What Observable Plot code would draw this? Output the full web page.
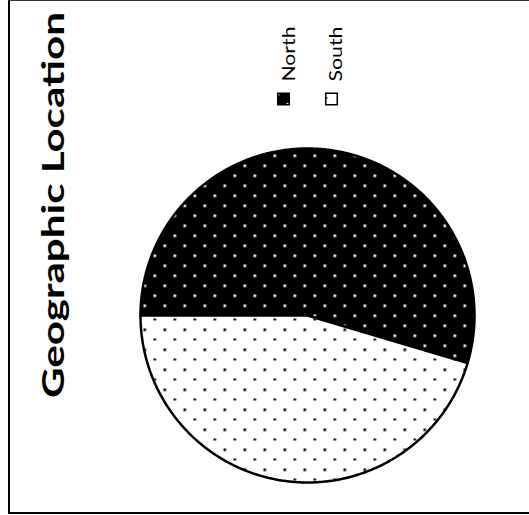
<!DOCTYPE html>
<html>
<head>
<meta charset="utf-8">
<script src="https://cdn.jsdelivr.net/npm/d3@7"></script>
<script src="https://cdn.jsdelivr.net/npm/@observablehq/plot@0.6"></script>
<style>
html, body { margin: 0; padding: 0; background: #fff; overflow: hidden; }
#wrap { position: relative; width: 529px; height: 515px; overflow: hidden; }
#border { position: absolute; left: 8px; top: 0px; width: 600px; height: 514px; box-sizing: border-box;
  border-left: 2px solid #000; border-top: 1.5px solid #333; border-bottom: 2px solid #000; pointer-events: none; }
</style>
</head>
<body>
<div id="wrap"><div id="chart"></div><div id="border"></div></div>
<script>
// ---- data ----
const title = "Geographic Location";
const regions = ["North", "South"];
const shares = [54.6, 45.4];
const patternIds = ["dotsNorth", "dotsSouth"];

// ---- slices (unit-circle geometry from d3.pie angles) ----
const data = regions.map((region, i) => ({region, value: shares[i]}));
const arcs = d3.pie().sort(null).value(d => d.value)
  .startAngle(-Math.PI / 2).endAngle(1.5 * Math.PI)(data);
const outline = arcs.flatMap(a => {
  const n = Math.max(2, Math.ceil((a.endAngle - a.startAngle) / (Math.PI / 360)));
  const pts = [{region: a.data.region, x: 0, y: 0}];
  for (let k = 0; k <= n; ++k) {
    const t = a.startAngle + (a.endAngle - a.startAngle) * k / n;
    pts.push({region: a.data.region, x: Math.sin(t), y: Math.cos(t)});
  }
  pts.push({region: a.data.region, x: 0, y: 0});
  return pts;
});

const font = "Lato, 'Open Sans', sans-serif";

const legendMarks = regions.flatMap((r, i) => [
  Plot.dot([r], {frameAnchor: "top-left", dx: 143 + 48 * i, dy: -49.5,
    symbol: "square", r: 6.5, fill: d => d, stroke: "black", strokeWidth: 1.5}),
  Plot.text([r], {frameAnchor: "top-left", dx: 142 + 47 * i, dy: -67, text: d => d,
    rotate: -90, textAnchor: "start", fontSize: 18, fontFamily: font, fill: "black"})
]);

const svg = Plot.plot({
  width: 529,
  height: 515,
  marginLeft: 140,
  marginRight: 55,
  marginTop: 148,
  marginBottom: 33,
  x: {domain: [-1, 1], axis: null},
  y: {domain: [-1, 1], axis: null},
  color: {type: "ordinal", domain: regions, range: patternIds.map(id => `url(#${id})`)},
  style: {background: "white", overflow: "visible"},
  marks: [
    Plot.line(outline, {x: "x", y: "y", z: "region", fill: "region", stroke: "black", strokeWidth: 2.5, strokeLinejoin: "round"}),
    Plot.text([title], {frameAnchor: "left", dx: -86, dy: -110.5, text: d => d, rotate: -90,
      textAnchor: "middle", fontSize: 31, fontWeight: "bold", fontFamily: font, fill: "black"}),
    ...legendMarks
  ]
});

// ---- dot patterns ----
const defs = d3.select(svg).insert("defs", ":first-child");
function pattern(id, bg, fg, ox, oy) {
  const p = defs.append("pattern").attr("id", id).attr("patternUnits", "userSpaceOnUse")
    .attr("width", 20).attr("height", 20);
  p.append("rect").attr("width", 20).attr("height", 20).attr("fill", bg);
  p.append("rect").attr("x", ox).attr("y", oy).attr("width", 2.6).attr("height", 2.6).attr("fill", fg);
  p.append("rect").attr("x", ox + 10).attr("y", oy + 10).attr("width", 2.6).attr("height", 2.6).attr("fill", fg);
}
pattern("dotsNorth", "black", "white", 3, 4);
pattern("dotsSouth", "white", "black", 3, 8);

// stretch texts to the widths seen in the reference
const texts = svg.querySelectorAll("text");
texts.forEach(t => {
  const s = t.textContent;
  if (s === title) { t.setAttribute("textLength", 386); t.setAttribute("lengthAdjust", "spacingAndGlyphs"); }
  else if (regions.includes(s)) { t.setAttribute("textLength", 55); t.setAttribute("lengthAdjust", "spacingAndGlyphs"); }
});

document.getElementById("chart").appendChild(svg);
</script>
</body>
</html>
